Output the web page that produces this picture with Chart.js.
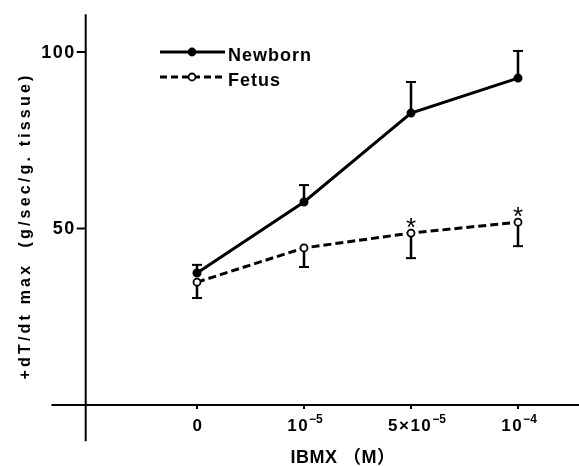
<!DOCTYPE html>
<html>
<head>
<meta charset="utf-8">
<title>IBMX dT/dt</title>
<script src="https://cdn.jsdelivr.net/npm/chart.js@4.4.0/dist/chart.umd.min.js"></script>
<style>
    html, body { margin: 0; padding: 0; background: #fff; overflow: hidden; }
    #ibmx-chart { display: block; }
</style>
</head>
<body>
<canvas id="ibmx-chart" width="579" height="466"></canvas>
<script>
    // data
    var doses = ["0", "10^−5", "5×10^−5", "10^−4"];
    var newborn = [37.4, 57.5, 82.7, 92.6];
    var newbornErr = [2.3, 4.8, 8.8, 7.7];
    var fetus = [34.8, 44.5, 48.7, 51.8];
    var fetusErr = [4.5, 5.4, 7.1, 6.8];
    var fetusStar = [false, false, true, true];
    var yTicks = [50, 100];
    var seriesNames = ["Newborn", "Fetus"];
    var yTitle = "+dT/dt max  (g/sec/g. tissue)";
    var xTitle = "IBMX （M）";

    var FONT = "'Liberation Sans', Arial, 'Noto Sans CJK JP', sans-serif";

    function toPoints(vals) {
        return vals.map(function (v, i) { return {x: i, y: v}; });
    }

    // error bars, axes, labels, legend
    var figurePlugin = {
        id: "figure",
        beforeDatasetsDraw: function (chart) {
            var ctx = chart.ctx;
            var xs = chart.scales.x, ys = chart.scales.y;
            ctx.save();
            ctx.strokeStyle = "#000";
            ctx.fillStyle = "#000";

            // axes
            var ax = xs.getPixelForValue(-1.04);
            var ay = ys.getPixelForValue(0);
            ctx.lineWidth = 2;
            ctx.beginPath();
            ctx.moveTo(ax, ys.getPixelForValue(110.7));
            ctx.lineTo(ax, ys.getPixelForValue(-10.3));
            ctx.moveTo(xs.getPixelForValue(-1.36), ay);
            ctx.lineTo(chart.width, ay);
            ctx.stroke();

            // y ticks
            ctx.font = "bold 18px " + FONT;
            ctx.letterSpacing = "1.5px";
            ctx.textAlign = "right";
            ctx.textBaseline = "middle";
            yTicks.forEach(function (t) {
                var py = ys.getPixelForValue(t);
                ctx.beginPath();
                ctx.moveTo(ax - 9, py);
                ctx.lineTo(ax, py);
                ctx.stroke();
                ctx.fillText(String(t), ax - 10, py + 1);
            });

            // x ticks with superscripts
            ctx.textAlign = "left";
            ctx.textBaseline = "alphabetic";
            doses.forEach(function (lab, i) {
                var px = xs.getPixelForValue(i);
                ctx.lineWidth = 2;
                ctx.beginPath();
                ctx.moveTo(px, ay);
                ctx.lineTo(px, ay + 4);
                ctx.stroke();
                var parts = lab.split("^");
                ctx.font = "bold 17px " + FONT;
                ctx.letterSpacing = "1.5px";
                var w1 = ctx.measureText(parts[0]).width;
                var w2 = 0;
                if (parts[1]) {
                    ctx.font = "bold 12px " + FONT;
                    ctx.letterSpacing = "0px";
                    w2 = ctx.measureText(parts[1]).width;
                }
                var left = px - (w1 + w2) / 2 + (i === 2 ? 6 : 1);
                ctx.font = "bold 17px " + FONT;
                ctx.letterSpacing = "1.5px";
                ctx.fillText(parts[0], left, ay + 26);
                if (parts[1]) {
                    ctx.font = "bold 12px " + FONT;
                    ctx.letterSpacing = "0px";
                    ctx.fillText(parts[1], left + w1, ay + 18);
                }
            });

            // x title
            ctx.font = "bold 18px " + FONT;
            ctx.letterSpacing = "0.5px";
            ctx.textAlign = "center";
            ctx.fillText(xTitle, 343, 463);

            // y title, spread to its printed length
            ctx.save();
            ctx.translate(26, 226);
            ctx.rotate(-Math.PI / 2);
            ctx.font = "bold 16px " + FONT;
            ctx.letterSpacing = "0px";
            var tw = ctx.measureText(yTitle).width;
            ctx.letterSpacing = ((307 - tw) / yTitle.length) + "px";
            ctx.textBaseline = "middle";
            ctx.fillText(yTitle, 0, 0);
            ctx.restore();

            // error bars (newborn up, fetus down)
            var bars = [[newborn, newbornErr, 1], [fetus, fetusErr, -1]];
            ctx.letterSpacing = "0px";
            bars.forEach(function (b) {
                b[0].forEach(function (v, i) {
                    var px = xs.getPixelForValue(i);
                    var p0 = ys.getPixelForValue(v);
                    var p1 = ys.getPixelForValue(v + b[2] * b[1][i]);
                    ctx.lineWidth = 2.5;
                    ctx.beginPath();
                    ctx.moveTo(px, p0);
                    ctx.lineTo(px, p1);
                    ctx.stroke();
                    ctx.lineWidth = 2;
                    ctx.beginPath();
                    ctx.moveTo(px - 5, p1);
                    ctx.lineTo(px + 5, p1);
                    ctx.stroke();
                });
            });
            ctx.restore();
        },
        afterDatasetsDraw: function (chart) {
            var ctx = chart.ctx;
            var xs = chart.scales.x, ys = chart.scales.y;
            ctx.save();
            ctx.fillStyle = "#000";
            ctx.strokeStyle = "#000";

            // significance marks
            ctx.font = "26px " + FONT;
            ctx.textAlign = "center";
            ctx.textBaseline = "alphabetic";
            fetus.forEach(function (v, i) {
                if (fetusStar[i]) {
                    ctx.fillText("*", xs.getPixelForValue(i), ys.getPixelForValue(v) + 3);
                }
            });

            // legend
            var rows = [[52, [], "#000"], [77, [7, 4], "#fff"]];
            rows.forEach(function (r, k) {
                ctx.lineWidth = 3;
                ctx.setLineDash(r[1]);
                ctx.beginPath();
                ctx.moveTo(160, r[0]);
                ctx.lineTo(225, r[0]);
                ctx.stroke();
                ctx.setLineDash([]);
                ctx.beginPath();
                ctx.arc(192, r[0], 3.5, 0, Math.PI * 2);
                ctx.fillStyle = r[2];
                ctx.fill();
                ctx.lineWidth = 1.8;
                ctx.stroke();
                ctx.fillStyle = "#000";
                ctx.font = "bold 18px " + FONT;
                ctx.letterSpacing = "1px";
                ctx.textAlign = "left";
                ctx.fillText(seriesNames[k], 228, r[0] + 9);
            });
            ctx.restore();
        }
    };

    var ctx1 = document.getElementById("ibmx-chart").getContext("2d");
    var myChart1 = new Chart(ctx1, {
        type: "line",
        data: {
            datasets: [{
                label: seriesNames[0],
                data: toPoints(newborn),
                borderColor: "#000",
                borderWidth: 3,
                pointRadius: 3,
                pointBackgroundColor: "#000",
                pointBorderColor: "#000",
                tension: 0
            },
                {
                    label: seriesNames[1],
                    data: toPoints(fetus),
                    borderColor: "#000",
                    borderWidth: 3,
                    borderDash: [8, 4],
                    pointRadius: 3.5,
                    pointBorderWidth: 1.8,
                    pointBackgroundColor: "#fff",
                    pointBorderColor: "#000",
                    tension: 0
                }]
        },
        options: {
            responsive: false,
            animation: false,
            layout: {padding: 0, autoPadding: false},
            plugins: {legend: {display: false}, tooltip: {enabled: false}},
            scales: {
                x: {type: "linear", min: -1.841, max: 3.570, display: false},
                y: {type: "linear", min: -17.28, max: 114.73, display: false}
            }
        },
        plugins: [figurePlugin]
    });
</script>
</body>
</html>
